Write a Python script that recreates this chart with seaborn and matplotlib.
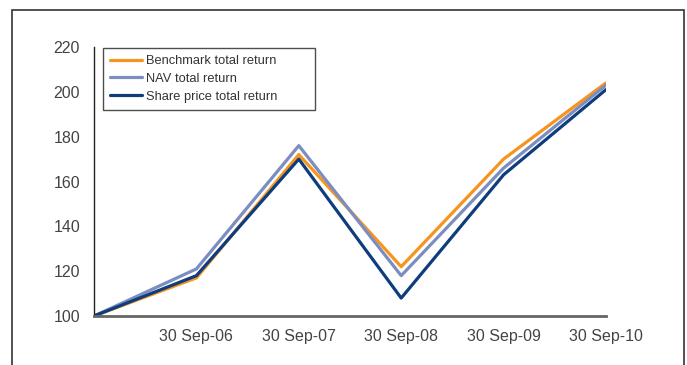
import matplotlib
matplotlib.use("Agg")
import matplotlib.pyplot as plt
import seaborn as sns
import pandas as pd
from matplotlib.patches import Rectangle

dates = ["30 Sep-05", "30 Sep-06", "30 Sep-07", "30 Sep-08", "30 Sep-09", "30 Sep-10"]
tick_labels = ["", "30 Sep-06", "30 Sep-07", "30 Sep-08", "30 Sep-09", "30 Sep-10"]
benchmark = [100, 117, 172, 122, 170, 204]
nav = [100, 121, 176, 118, 166, 203]
share_price = [100, 118, 170, 108, 163, 201]
series_names = ["Benchmark total return", "NAV total return", "Share price total return"]
colors = ["#F7941D", "#7C8DBF", "#0E3D7E"]

df = pd.DataFrame({
    "x": list(range(len(dates))) * 3,
    "value": benchmark + nav + share_price,
    "series": [series_names[0]] * 6 + [series_names[1]] * 6 + [series_names[2]] * 6,
})

sns.set_style("white")
plt.rcParams["font.family"] = ["Liberation Sans", "DejaVu Sans"]

W, H = 687, 365
fig = plt.figure(figsize=(W / 100, H / 100), dpi=100)
fig.patch.set_facecolor("white")

# outer frame
fig.patches.append(Rectangle((12 / W, -0.1), (684 - 12) / W, 1.1 - 10 / H,
                             transform=fig.transFigure, fill=False,
                             edgecolor="#333333", linewidth=1.2))

x0, x1, y_top, y_bot = 94, 606, 47, 316
ax = fig.add_axes([x0 / W, 1 - y_bot / H, (x1 - x0) / W, (y_bot - y_top) / H])
sns.lineplot(data=df, x="x", y="value", hue="series", palette=colors,
             hue_order=series_names, linewidth=2.3, ax=ax, legend=True)

ax.set_xlim(0, 5)
ax.set_ylim(100, 220)
ax.set_xticks(range(6))
ax.set_xticklabels(tick_labels)
ax.set_yticks([100, 120, 140, 160, 180, 200, 220])
ax.set_xlabel("")
ax.set_ylabel("")
for s in ["top", "right"]:
    ax.spines[s].set_visible(False)
ax.spines["bottom"].set_color("#666666")
ax.spines["bottom"].set_linewidth(2)
ax.spines["left"].set_color("#222222")
ax.spines["left"].set_linewidth(1)
ax.tick_params(axis="x", direction="out", length=6, width=1.2, color="#444444",
               labelsize=11.5, labelcolor="#444444", pad=3)
ax.tick_params(axis="y", direction="out", length=6, width=1, color="#222222",
               labelsize=11.5, labelcolor="#444444", pad=4)
ax.set_facecolor("white")

# legend box in pixel coordinates: x 103..315, y 48..109
lx0, lx1, ly0, ly1 = 103, 315, 48, 109
bbox = ((lx0 - x0) / (x1 - x0), 1 - (ly1 - y_top) / (y_bot - y_top),
        (lx1 - lx0) / (x1 - x0), (ly1 - ly0) / (y_bot - y_top))
leg = ax.legend(loc="upper left", bbox_to_anchor=bbox, mode="expand",
                frameon=True, fancybox=False, edgecolor="#222222", fontsize=9.3,
                handlelength=2.5, handletextpad=0.3, labelspacing=0.45,
                borderpad=0.55, borderaxespad=0, title=None)
leg.get_frame().set_linewidth(1)
for t in leg.get_texts():
    t.set_color("#333333")
for line in leg.get_lines():
    line.set_linewidth(2.3)

fig.savefig("out.png", dpi=100, facecolor="white")
